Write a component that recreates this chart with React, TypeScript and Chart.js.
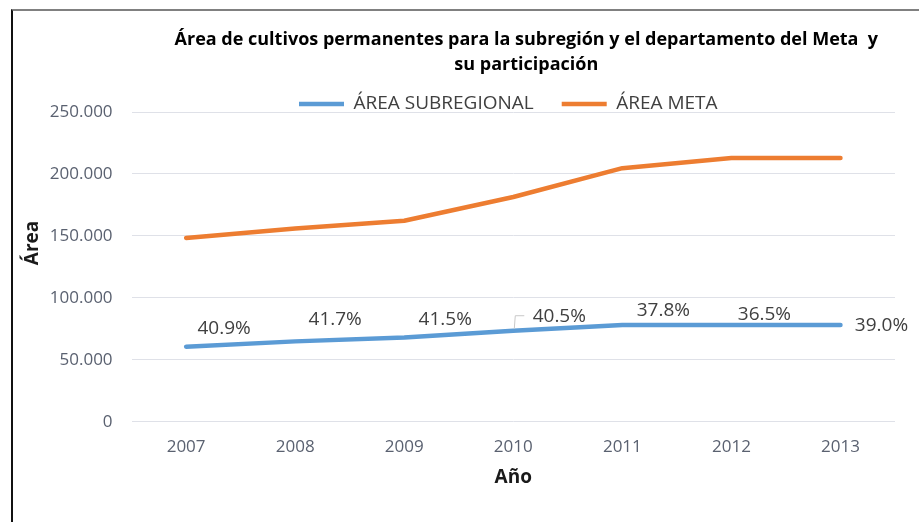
import React, { useEffect, useRef } from 'react';
import { Chart, registerables } from 'chart.js';

Chart.register(...registerables);

// ---------- data ----------
const years: string[] = ['2007', '2008', '2009', '2010', '2011', '2012', '2013'];
const areaSubregional: number[] = [60600, 64900, 68100, 73500, 78200, 78200, 78200];
const areaMeta: number[] = [148400, 156000, 162200, 181400, 204700, 212800, 212800];
const participation: string[] = ['40.9%', '41.7%', '41.5%', '40.5%', '37.8%', '36.5%', '39.0%'];
const seriesNames: string[] = ['ÁREA SUBREGIONAL', 'ÁREA META'];
const titleLines: string[] = [
  'Área de cultivos permanentes para la subregión y el departamento del Meta  y',
  'su participación',
];
const yAxisTitle = 'Área';
const xAxisTitle = 'Año';
const yMin = 0;
const yMax = 250000;
const yStep = 50000;

// ---------- style ----------
const FONT = "'Open Sans', 'DejaVu Sans', sans-serif";
const BLUE = '#5B9BD5';
const ORANGE = '#ED7D31';
const TICK_COLOR = '#5A6170';
const LABEL_COLOR = '#404040';
const AXIS_TITLE_COLOR = '#1a1a1a';
const LEGEND_FONT_SIZE = 19;
const LEGEND_PADDING = 28;
// label offsets (px) from each point of the first series
const labelOffsets: [number, number][] = [
  [38, -18], [40, -22], [41, -18], [46, -14], [41, -14], [33, -10], [41, 1],
];
const leaderIndex = 3;
const TITLE_SHIFT_X = 13;
const LEGEND_SHIFT_X = -5;
const LEGEND_TEXT_Y = 104;
const Y_TITLE_POS = { x: 33, y: 243 };

const fmt = (v: number) => String(Math.round(v)).replace(/\B(?=(\d{3})+(?!\d))/g, '.');

const nudgePlugin = {
  id: 'nudge',
  afterLayout(chart: any) {
    const t = chart.titleBlock;
    if (t) {
      t.left += TITLE_SHIFT_X;
      t.right += TITLE_SHIFT_X;
    }
    const l = chart.legend;
    if (l) {
      const top = LEGEND_TEXT_Y - LEGEND_PADDING - LEGEND_FONT_SIZE / 2;
      l.top = top;
      l.bottom = top + LEGEND_PADDING + LEGEND_FONT_SIZE + 12;
      l.height = l.bottom - l.top;
      l.left += LEGEND_SHIFT_X;
      l.right += LEGEND_SHIFT_X;
    }
  },
};

const yTitlePlugin = {
  id: 'yTitle',
  afterDraw(chart: any) {
    const ctx = chart.ctx;
    ctx.save();
    ctx.translate(Y_TITLE_POS.x, Y_TITLE_POS.y);
    ctx.rotate(-Math.PI / 2);
    ctx.font = `bold 19px ${FONT}`;
    ctx.fillStyle = AXIS_TITLE_COLOR;
    ctx.textAlign = 'center';
    ctx.textBaseline = 'middle';
    ctx.fillText(yAxisTitle, 0, 0);
    ctx.restore();
  },
};

const dataLabelPlugin = {
  id: 'dataLabels',
  afterDatasetsDraw(chart: any) {
    const meta = chart.getDatasetMeta(0);
    const ctx = chart.ctx;
    ctx.save();
    ctx.font = `19px ${FONT}`;
    ctx.fillStyle = LABEL_COLOR;
    ctx.textAlign = 'center';
    ctx.textBaseline = 'middle';
    meta.data.forEach((pt: any, i: number) => {
      const [dx, dy] = labelOffsets[i];
      ctx.fillText(participation[i], pt.x + dx, pt.y + dy);
      if (i === leaderIndex) {
        ctx.strokeStyle = '#C8C8C8';
        ctx.lineWidth = 1;
        ctx.beginPath();
        ctx.moveTo(pt.x + 1, pt.y - 2);
        ctx.lineTo(pt.x + 2, pt.y - 15);
        ctx.lineTo(pt.x + 11, pt.y - 15);
        ctx.stroke();
      }
    });
    ctx.restore();
  },
};

export default function App() {
  const ref = useRef<HTMLCanvasElement | null>(null);

  useEffect(() => {
    if (!ref.current) return;
    const chart = new Chart(ref.current, {
      type: 'line',
      data: {
        labels: years,
        datasets: [
          {
            label: seriesNames[0],
            data: areaSubregional,
            borderColor: BLUE,
            backgroundColor: BLUE,
            borderWidth: 4.5,
            borderCapStyle: 'round',
            borderJoinStyle: 'round',
            pointRadius: 0,
            pointStyle: 'line',
            tension: 0,
          },
          {
            label: seriesNames[1],
            data: areaMeta,
            borderColor: ORANGE,
            backgroundColor: ORANGE,
            borderWidth: 4.5,
            borderCapStyle: 'round',
            borderJoinStyle: 'round',
            pointRadius: 0,
            pointStyle: 'line',
            tension: 0,
          },
        ],
      },
      options: {
        responsive: false,
        animation: false,
        devicePixelRatio: 1,
        layout: { padding: { top: 10, left: 30.8, right: 24, bottom: 32.6 } },
        plugins: {
          title: {
            display: true,
            fullSize: false,
            text: titleLines,
            color: '#000',
            font: { family: FONT, size: 18, weight: 'bold', lineHeight: 1.35 },
            padding: { top: 18, bottom: 6 },
          },
          legend: {
            display: true,
            fullSize: false,
            maxHeight: 29.4,
            labels: {
              usePointStyle: true,
              pointStyle: 'line',
              pointStyleWidth: 45,
              boxWidth: 45,
              boxHeight: 5,
              padding: LEGEND_PADDING,
              color: LABEL_COLOR,
              font: { family: FONT, size: LEGEND_FONT_SIZE },
            },
          },
          tooltip: { enabled: false },
        },
        scales: {
          x: {
            type: 'category',
            offset: true,
            grid: { display: false, drawTicks: false },
            border: { display: false },
            ticks: { color: TICK_COLOR, font: { family: FONT, size: 17 }, padding: 15, maxRotation: 0 },
            title: {
              display: true,
              text: xAxisTitle,
              color: AXIS_TITLE_COLOR,
              font: { family: FONT, size: 19, weight: 'bold' },
              padding: { top: -5.6, bottom: 0 },
            },
          },
          y: {
            min: yMin,
            max: yMax,
            grid: { color: '#DFE1E8', lineWidth: 1, drawTicks: false },
            border: { display: false },
            ticks: {
              stepSize: yStep,
              color: TICK_COLOR,
              font: { family: FONT, size: 17 },
              padding: 19,
              callback: (v: any) => fmt(Number(v)),
            },
            title: { display: false, text: yAxisTitle },
          },
        },
      },
      plugins: [nudgePlugin, dataLabelPlugin, yTitlePlugin],
    } as any);
    return () => chart.destroy();
  }, []);

  return (
    <div style={{ position: 'absolute', left: 0, top: 0, width: 919, height: 522, background: '#fff', overflow: 'hidden' }}>
      <canvas ref={ref} width={919} height={522} style={{ display: 'block', width: 919, height: 522 }} />
      <div
        style={{
          position: 'absolute',
          left: 11,
          top: 9,
          right: 0,
          bottom: 0,
          borderTop: '2px solid #808080',
          borderLeft: '2px solid #111',
          pointerEvents: 'none',
        }}
      />
    </div>
  );
}
